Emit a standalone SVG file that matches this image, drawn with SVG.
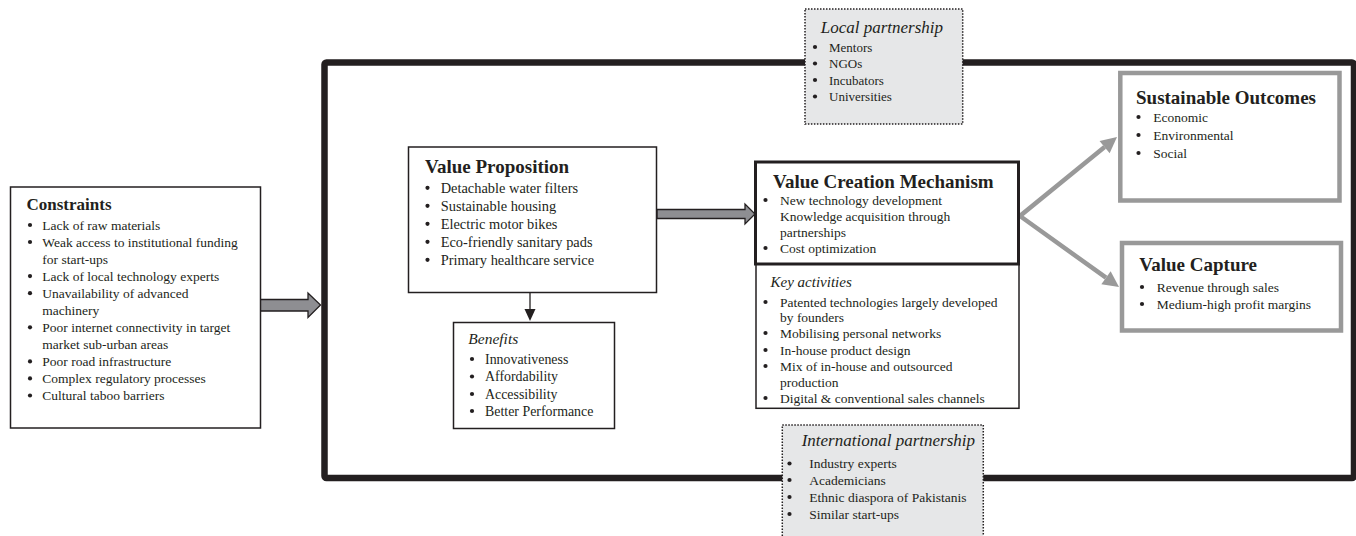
<svg xmlns="http://www.w3.org/2000/svg" width="1356" height="536" viewBox="0 0 1356 536">
  <style>
    text { font-family: "Liberation Serif", "Times New Roman", serif; fill: #231f20; }
    .title { font-weight: bold; font-size: 19px; }
    .ctitle { font-weight: bold; font-size: 17px; }
    .ital { font-style: italic; font-size: 17px; }
    .ital15 { font-style: italic; font-size: 15px; }
    .body { font-size: 13.5px; }
    .body14 { font-size: 14.4px; }
    .box { fill: #ffffff; stroke: #231f20; stroke-width: 1.5; }
    .partner { fill: #e6e7e8; stroke: #231f20; stroke-width: 1.5; stroke-dasharray: 1.5 1.5; }
    .outcome { fill: #ffffff; stroke: #999999; stroke-width: 4.5; }
    .blockarrow { fill: #8e8e92; stroke: #231f20; stroke-width: 1.3; stroke-linejoin: miter; }
  </style>
  <defs>
    <circle id="dot" r="2.1" fill="#231f20"/>
  </defs>

  <!-- business model frame -->
  <g id="frame">
    <rect x="324.5" y="62.5" width="1029.5" height="415.5" fill="none" stroke="#231f20" stroke-width="6.5" rx="2"/>
  </g>

  <!-- connectors -->
  <g id="connectors">
    <polygon class="blockarrow" points="260,299.5 308,299.5 308,293 320.5,305 308,317.5 308,311 260,311"/>
    <polygon class="blockarrow" points="657,209.5 745,209.5 745,204 755,214 745,224 745,218.5 657,218.5"/>
    <line x1="530" y1="292.5" x2="530" y2="310" stroke="#231f20" stroke-width="1.3"/>
    <polygon points="524.5,309 535.5,309 530,321" fill="#231f20"/>
    <polyline points="1104.6,147.1 1020,216 1106,277.7" fill="none" stroke="#999999" stroke-width="4.5" stroke-linejoin="miter"/>
    <polygon points="1117,137 1109.65,153.3 1099.55,140.9" fill="#999999"/>
    <polygon points="1119,287 1101.34,284.17 1110.66,271.17" fill="#999999"/>
  </g>

  <g id="constraints">
    <rect class="box" x="10.5" y="187" width="250" height="241"/>
    <text class="ctitle" x="26.5" y="210">Constraints</text>
    <g class="body">
      <use href="#dot" x="30" y="225"/><text x="42.3" y="229.5">Lack of raw materials</text>
      <use href="#dot" x="30" y="242"/><text x="42.3" y="246.5">Weak access to institutional funding</text>
      <text x="42.3" y="263.6">for start-ups</text>
      <use href="#dot" x="30" y="276.1"/><text x="42.3" y="280.6">Lack of local technology experts</text>
      <use href="#dot" x="30" y="293.2"/><text x="42.3" y="297.7">Unavailability of advanced</text>
      <text x="42.3" y="314.7">machinery</text>
      <use href="#dot" x="30" y="327.3"/><text x="42.3" y="331.8">Poor internet connectivity in target</text>
      <text x="42.3" y="348.8">market sub-urban areas</text>
      <use href="#dot" x="30" y="361.4"/><text x="42.3" y="365.9">Poor road infrastructure</text>
      <use href="#dot" x="30" y="378.4"/><text x="42.3" y="382.9">Complex regulatory processes</text>
      <use href="#dot" x="30" y="395.5"/><text x="42.3" y="400">Cultural taboo barriers</text>
    </g>
  </g>

  <g id="value-proposition">
    <rect class="box" x="408.5" y="147" width="248" height="145.5"/>
    <text class="title" x="425" y="172.5">Value Proposition</text>
    <g class="body14">
      <use href="#dot" x="427.5" y="187.8"/><text x="440.7" y="192.5">Detachable water filters</text>
      <use href="#dot" x="427.5" y="205.8"/><text x="440.7" y="210.5">Sustainable housing</text>
      <use href="#dot" x="427.5" y="223.8"/><text x="440.7" y="228.5">Electric motor bikes</text>
      <use href="#dot" x="427.5" y="241.8"/><text x="440.7" y="246.5">Eco-friendly sanitary pads</text>
      <use href="#dot" x="427.5" y="259.8"/><text x="440.7" y="264.5">Primary healthcare service</text>
    </g>
  </g>

  <g id="benefits">
    <rect class="box" x="453.5" y="322.5" width="161" height="106" stroke-width="1.2"/>
    <text x="468.3" y="344" style="font-style: italic; font-size: 15.5px;">Benefits</text>
    <g style="font-size: 13.9px;">
      <use href="#dot" x="472" y="359"/><text x="485" y="363.5">Innovativeness</text>
      <use href="#dot" x="472" y="376.5"/><text x="485" y="381">Affordability</text>
      <use href="#dot" x="472" y="394"/><text x="485" y="398.5">Accessibility</text>
      <use href="#dot" x="472" y="411"/><text x="485" y="415.5">Better Performance</text>
    </g>
  </g>

  <g id="value-creation">
    <rect class="box" x="756" y="264" width="263" height="144.3" stroke-width="1.2"/>
    <rect x="755.5" y="162" width="263" height="102" fill="#ffffff" stroke="#231f20" stroke-width="3"/>
    <text class="title" x="773" y="187.5">Value Creation Mechanism</text>
    <g class="body">
      <use href="#dot" x="765.5" y="200"/><text x="780" y="204.5">New technology development</text>
      <text x="780" y="220.5">Knowledge acquisition through</text>
      <text x="780" y="236.5">partnerships</text>
      <use href="#dot" x="765.5" y="248"/><text x="780" y="252.5">Cost optimization</text>
    </g>
    <text class="ital15" x="770.5" y="287">Key activities</text>
    <g class="body">
      <use href="#dot" x="765.5" y="302"/><text x="780" y="306.5">Patented technologies largely developed</text>
      <text x="780" y="321.5">by founders</text>
      <use href="#dot" x="765.5" y="333"/><text x="780" y="337.5">Mobilising personal networks</text>
      <use href="#dot" x="765.5" y="350"/><text x="780" y="354.5">In-house product design</text>
      <use href="#dot" x="765.5" y="366"/><text x="780" y="370.5">Mix of in-house and outsourced</text>
      <text x="780" y="386.5">production</text>
      <use href="#dot" x="765.5" y="398"/><text x="780" y="402.5">Digital &amp; conventional sales channels</text>
    </g>
  </g>

  <g id="sustainable-outcomes">
    <rect class="outcome" x="1120.3" y="73" width="219.2" height="127.5"/>
    <text class="title" x="1136" y="103.5">Sustainable Outcomes</text>
    <g class="body">
      <use href="#dot" x="1138.5" y="117"/><text x="1153.3" y="121.5">Economic</text>
      <use href="#dot" x="1138.5" y="135"/><text x="1153.3" y="139.5">Environmental</text>
      <use href="#dot" x="1138.5" y="153"/><text x="1153.3" y="157.5">Social</text>
    </g>
  </g>

  <g id="value-capture">
    <rect class="outcome" x="1122" y="243" width="219" height="87.5"/>
    <text class="title" x="1139.3" y="270.5">Value Capture</text>
    <g class="body">
      <use href="#dot" x="1142" y="287"/><text x="1156.7" y="291.5">Revenue through sales</text>
      <use href="#dot" x="1142" y="304"/><text x="1156.7" y="308.5">Medium-high profit margins</text>
    </g>
  </g>

  <g id="local-partnership">
    <rect class="partner" x="805" y="9" width="157.7" height="115"/>
    <text class="ital" x="820.7" y="33">Local partnership</text>
    <g style="font-size: 13px;">
      <use href="#dot" x="815" y="47"/><text x="829" y="51.5">Mentors</text>
      <use href="#dot" x="815" y="63.5"/><text x="829" y="68">NGOs</text>
      <use href="#dot" x="815" y="80"/><text x="829" y="84.5">Incubators</text>
      <use href="#dot" x="815" y="96.5"/><text x="829" y="101">Universities</text>
    </g>
  </g>

  <g id="international-partnership">
    <rect class="partner" x="782.3" y="425" width="201" height="120"/>
    <text class="ital" x="801.7" y="446">International partnership</text>
    <g style="font-size: 13.5px;">
      <use href="#dot" x="789.5" y="463.5"/><text x="809.3" y="468">Industry experts</text>
      <use href="#dot" x="789.5" y="480"/><text x="809.3" y="484.5">Academicians</text>
      <use href="#dot" x="789.5" y="497"/><text x="809.3" y="501.5">Ethnic diaspora of Pakistanis</text>
      <use href="#dot" x="789.5" y="514"/><text x="809.3" y="518.5">Similar start-ups</text>
    </g>
  </g>
</svg>
